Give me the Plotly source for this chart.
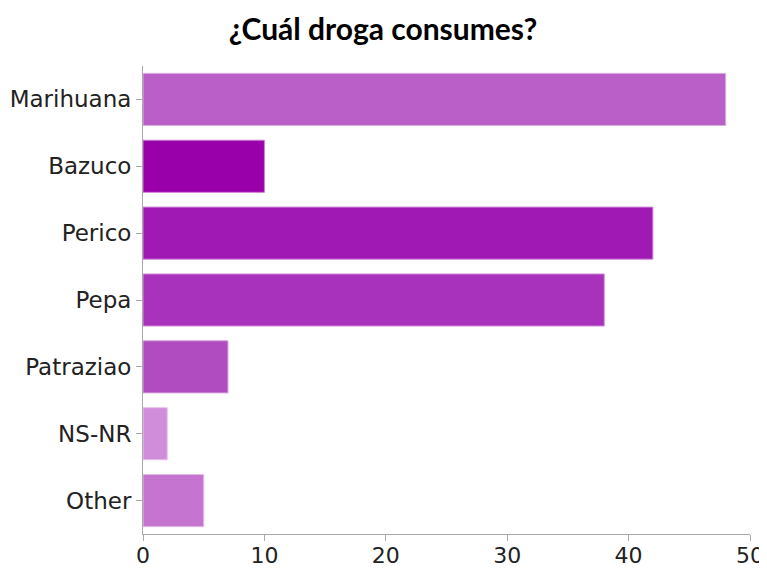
import plotly.graph_objects as go

categories = ["Marihuana", "Bazuco", "Perico", "Pepa", "Patraziao", "NS-NR", "Other"]
values = [48, 10, 42, 38, 7, 2, 5]
colors = ["#B95FC7", "#9900AA", "#A019B4", "#A932BC", "#B04CC0", "#D08EDA", "#C575D0"]
border_colors = ["#DDAFE3", "#CC80D4", "#CF8CD9", "#D498DD", "#D7A5DF", "#E7C6EC", "#E2BAE7"]
x_ticks = [0, 10, 20, 30, 40, 50]

# the page body has an 8px margin, so the figure is 8px smaller than the window
W, H = 759, 560

fig = go.Figure(go.Bar(
    y=categories,
    x=values,
    orientation="h",
    marker=dict(color=colors, line=dict(color=border_colors, width=1)),
    hoverinfo="x+y",
))

fig.update_layout(
    template="none",
    width=W,
    height=H,
    margin=dict(l=135, r=17, t=58, b=34, autoexpand=False),
    paper_bgcolor="white",
    plot_bgcolor="white",
    bargap=0.22,
    showlegend=False,
    title=dict(
        text="<b>¿Cuál droga consumes?</b>",
        x=375 / W,
        xanchor="center",
        y=1 - 21 / H,
        yanchor="middle",
        font=dict(family="Lato, Open Sans, sans-serif", size=30, color="#000000"),
    ),
    font=dict(family="DejaVu Sans, sans-serif", size=22, color="#222222"),
)

common = dict(
    showgrid=False,
    zeroline=False,
    showline=True,
    linecolor="#AAAAAA",
    linewidth=1,
    ticks="outside",
    ticklen=6,
    tickcolor="#AAAAAA",
    automargin=False,
)

fig.update_xaxes(
    range=[0, 50], tickvals=x_ticks, ticktext=[str(t) for t in x_ticks],
    tickfont=dict(family="DejaVu Sans, sans-serif", size=22, color="#222222"),
    ticklabelstandoff=-4,
    **common,
)
fig.update_yaxes(
    categoryorder="array", categoryarray=categories, autorange="reversed",
    tickfont=dict(family="DejaVu Sans, sans-serif", size=23, color="#222222"),
    **common,
)

fig.write_html("out.html")
